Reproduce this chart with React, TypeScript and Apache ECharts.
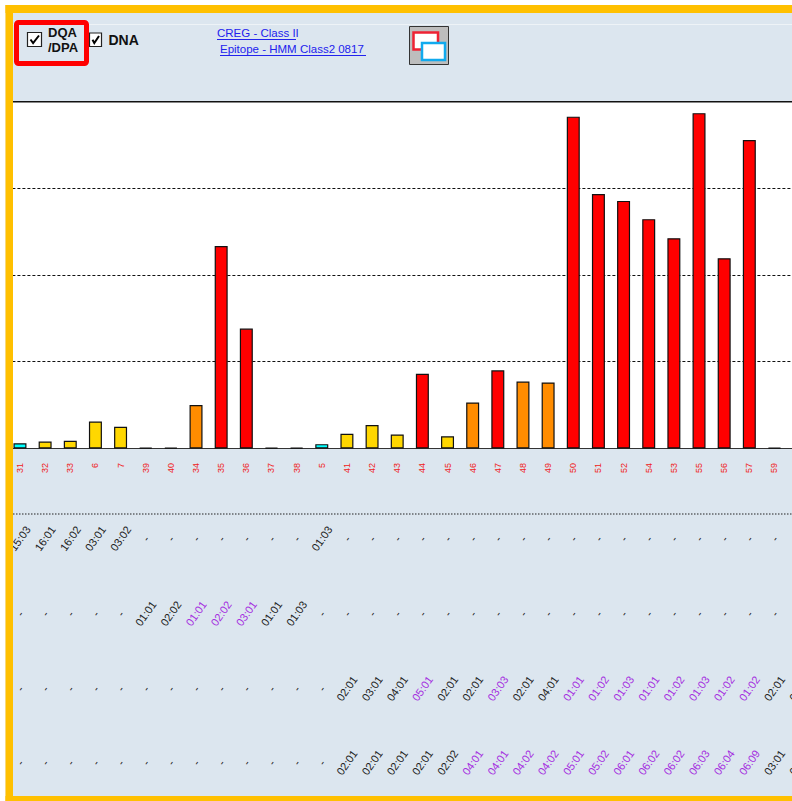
import React, { useEffect, useRef } from "react";
import * as echarts from "echarts";

const categories = ["31","32","33","6","7","39","40","34","35","36","37","38","5","41","42","43","44","45","46","47","48","49","50","51","52","54","53","55","56","57","59",""];
const values = [6,8,9,31,25,1,1,50,233,138,1,1,5,17,27,16,86,14,53,90,77,76,382,293,285,264,242,386,219,355,1,null];
const levels = ["c","y","y","y","y","k","k","o","r","r","k","k","c","y","y","y","r","y","o","r","o","o","r","r","r","r","r","r","r","r","k","k"];
const D = "-";
const row1 = ["15:03","16:01","16:02","03:01","03:02",D,D,D,D,D,D,D,"01:03",D,D,D,D,D,D,D,D,D,D,D,D,D,D,D,D,D,D,""];
const row1Tone = "kkkkkkkkkkkkkkkkkkkkkkkkkkkkkkkk";
const row2 = [D,D,D,D,D,"01:01","02:02","01:01","02:02","03:01","01:01","01:03",D,D,D,D,D,D,D,D,D,D,D,D,D,D,D,D,D,D,D,""];
const row2Tone = "kkkkkkkpppkkkkkkkkkkkkkkkkkkkkkk";
const row3 = [D,D,D,D,D,D,D,D,D,D,D,D,D,"02:01","03:01","04:01","05:01","02:01","02:01","03:03","02:01","04:01","01:01","01:02","01:03","01:01","01:02","01:03","01:02","01:02","02:01","05:01"];
const row3Tone = "kkkkkkkkkkkkkkkkpkkpkkppppppppkk";
const row4 = [D,D,D,D,D,D,D,D,D,D,D,D,D,"02:01","02:01","02:01","02:01","02:02","04:01","04:01","04:02","04:02","05:01","05:02","06:01","06:02","06:02","06:03","06:04","06:09","03:01","03:02"];
const row4Tone = "kkkkkkkkkkkkkkkkkkppppppppppppkk";
const rowCentres = [538, 613, 688, 762];
const levelColors: Record<string, string> = { c: "#00ffff", y: "#ffd700", o: "#ff8c00", r: "#ff0000", k: "#111111" };
const toneColors: Record<string, string> = { k: "#222222", p: "#a52ee0" };

const AXIS_Y = 448;
const SANS = "'Liberation Sans', Arial, sans-serif";

function rowAxis(labels: string[], tones: string, centre: number) {
  return {
    type: "category",
    position: "bottom",
    gridIndex: 0,
    data: labels.map((value, i) => ({
      value,
      textStyle: {
        color: toneColors[tones[i]],
        align: "center",
        verticalAlign: "middle",
        fontFamily: SANS,
        fontSize: 11,
      },
    })),
    axisLine: { show: false },
    axisTick: { show: false },
    axisLabel: {
      interval: 0,
      rotate: 55,
      margin: centre - AXIS_Y,
      align: "center",
      verticalAlign: "middle",
      fontFamily: SANS,
      fontSize: 11,
      hideOverlap: false,
    },
  };
}

const underline = (x1: number, x2: number, y: number) => ({
  type: "line",
  z: 50,
  shape: { x1, y1: y, x2, y2: y },
  style: { stroke: "#2222ee", lineWidth: 1 },
});

const checkbox = (x: number, y: number, w: number, h: number) => ({
  type: "group",
  z: 50,
  children: [
    { type: "rect", z: 50, shape: { x, y, width: w, height: h }, style: { fill: "#ffffff", stroke: "#222222", lineWidth: 1.2 } },
    {
      type: "polyline",
      z: 51,
      shape: { points: [[x + 3, y + h / 2], [x + w * 0.4, y + h - 3.5], [x + w - 2.5, y + 3]] },
      style: { stroke: "#000000", lineWidth: 2, fill: "none" },
    },
  ],
});

export default function App() {
  const ref = useRef<HTMLDivElement>(null);
  useEffect(() => {
    const chart = echarts.init(ref.current!, undefined, { renderer: "svg" });
    chart.setOption({
      animation: false,
      backgroundColor: "#dce6ef",
      grid: { show: true, backgroundColor: "#ffffff", borderWidth: 0, left: 7.4, top: 101, width: 804.8, height: 347.5, outerBoundsMode: "none", containLabel: false },
      xAxis: [
        {
          type: "category",
          data: categories,
          axisLine: { lineStyle: { color: "#333333", width: 1 } },
          axisTick: { alignWithLabel: true, length: 10, lineStyle: { color: "#333333", width: 1 } },
          axisLabel: { interval: 0, rotate: 90, margin: 14.5, color: "#f02020", fontFamily: SANS, fontSize: 9, hideOverlap: false, align: "right", verticalAlign: "middle" },
        },
        rowAxis(row1, row1Tone, rowCentres[0]),
        rowAxis(row2, row2Tone, rowCentres[1]),
        rowAxis(row3, row3Tone, rowCentres[2]),
        rowAxis(row4, row4Tone, rowCentres[3]),
      ],
      yAxis: {
        type: "value",
        min: 0,
        max: 400,
        interval: 100,
        axisLabel: { show: false },
        axisLine: { show: false },
        axisTick: { show: false },
        splitLine: { lineStyle: { color: "#111111", type: [3, 2], width: 1 } },
      },
      series: [
        {
          type: "bar",
          barWidth: 13,
          data: values.map((value, i) => ({
            value,
            itemStyle: { color: levelColors[levels[i]], borderColor: "#111111", borderWidth: 1.2 },
          })),
          silent: true,
        },
      ],
      graphic: [
        { type: "rect", z: 40, shape: { x: 13, y: 101, width: 779, height: 1.5 }, style: { fill: "#111111" } },
        { type: "rect", z: 40, shape: { x: 13, y: 24, width: 779, height: 1 }, style: { fill: "#eef3f7" } },
        { type: "line", z: 40, shape: { x1: 13, y1: 514, x2: 792, y2: 514 }, style: { stroke: "#222222", lineWidth: 1, lineDash: [1.5, 1.5] } },

        checkbox(27.5, 32.5, 14, 14),
        checkbox(89.5, 33, 12, 13.5),
        { type: "text", z: 50, style: { x: 48, y: 32.5, text: "DQA", fill: "#111111", font: "bold 13px " + SANS, textVerticalAlign: "middle" } },
        { type: "text", z: 50, style: { x: 48, y: 47, text: "/DPA", fill: "#111111", font: "bold 13px " + SANS, textVerticalAlign: "middle" } },
        { type: "text", z: 50, style: { x: 108.5, y: 39.5, text: "DNA", fill: "#111111", font: "bold 14px " + SANS, textVerticalAlign: "middle" } },
        { type: "text", z: 50, style: { x: 217, y: 33, text: "CREG - Class II", fill: "#2222ee", font: "11.5px " + SANS, textVerticalAlign: "middle" } },
        underline(217, 296, 39.5),
        { type: "text", z: 50, style: { x: 220, y: 49, text: "Epitope - HMM Class2 0817", fill: "#2222ee", font: "11.5px " + SANS, textVerticalAlign: "middle" } },
        underline(220, 366, 55.5),
        { type: "rect", z: 55, shape: { x: 409.5, y: 26.5, width: 39, height: 38 }, style: { fill: "#bdbdbd", stroke: "#333333", lineWidth: 1 } },
        { type: "rect", z: 56, shape: { x: 413.5, y: 32.5, width: 24.5, height: 17 }, style: { fill: "#ffffff", stroke: "#ee2233", lineWidth: 2.5 } },
        { type: "rect", z: 57, shape: { x: 422, y: 43, width: 23, height: 17 }, style: { fill: "#ffffff", stroke: "#11aaee", lineWidth: 2.5 } },

        { type: "rect", z: 90, shape: { x: 16.5, y: 22.5, width: 70, height: 41, r: 2 }, style: { fill: "none", stroke: "#ff0000", lineWidth: 5 } },

        { type: "rect", z: 100, shape: { x: 0, y: 0, width: 792, height: 5 }, style: { fill: "#ffffff" } },
        { type: "rect", z: 100, shape: { x: 0, y: 0, width: 5.5, height: 801 }, style: { fill: "#ffffff" } },
        { type: "rect", z: 101, shape: { x: 5.5, y: 5, width: 786.5, height: 8 }, style: { fill: "#ffc000" } },
        { type: "rect", z: 101, shape: { x: 5.5, y: 5, width: 7.5, height: 796 }, style: { fill: "#ffc000" } },
        { type: "rect", z: 101, shape: { x: 5.5, y: 796, width: 786.5, height: 5 }, style: { fill: "#ffc000" } },
      ],
    });
    return () => chart.dispose();
  }, []);
  return <div ref={ref} style={{ position: "absolute", left: 0, top: 0, width: 792, height: 801, overflow: "hidden" }} />;
}
